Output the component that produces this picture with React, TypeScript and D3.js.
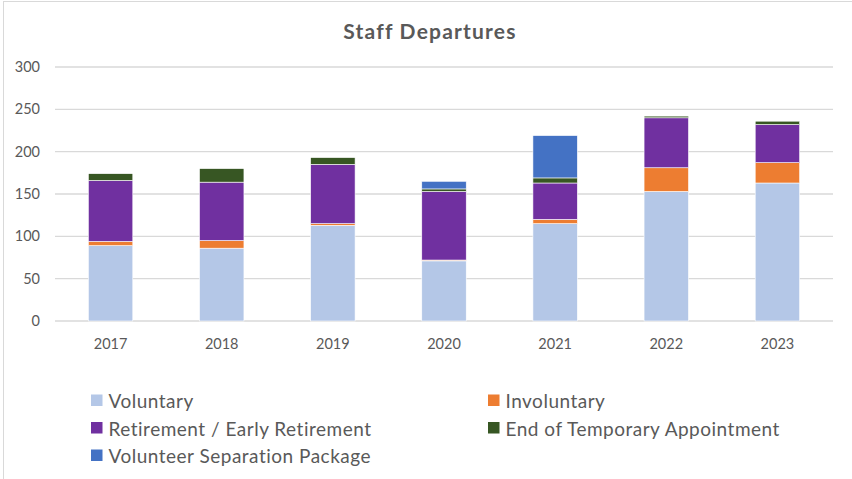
import React from "react";
import * as d3 from "d3";

const years = ["2017", "2018", "2019", "2020", "2021", "2022", "2023"];
const voluntary = [89, 86, 113, 71, 115, 153, 163];
const involuntary = [5, 9, 2, 1, 5, 28, 24];
const retirement = [72, 69, 70, 81, 43, 59, 45];
const endTemporary = [8, 16, 8, 3, 6, 2, 4];
const separationPackage = [0, 0, 0, 9, 50, 0, 0];
const yTicks = [0, 50, 100, 150, 200, 250, 300];

const seriesNames = [
  "Voluntary",
  "Involuntary",
  "Retirement / Early Retirement",
  "End of Temporary Appointment",
  "Volunteer Separation Package",
];
const seriesColors = ["#B4C7E7", "#ED7D31", "#7030A0", "#375623", "#4472C4"];

const width = 852;
const height = 479;
const marginLeft = 55;
const marginRight = 19;
const plotTop = 67;
const plotBottom = 321;
const font = "Lato, 'Liberation Sans', sans-serif";

export default function App() {
  const rows = years.map((year, i) => ({
    year,
    s0: voluntary[i],
    s1: involuntary[i],
    s2: retirement[i],
    s3: endTemporary[i],
    s4: separationPackage[i],
  }));
  const keys = ["s0", "s1", "s2", "s3", "s4"];
  const stacked = d3.stack<any>().keys(keys)(rows);

  const x = d3
    .scaleBand()
    .domain(years)
    .range([marginLeft, width - marginRight])
    .paddingInner(0.6)
    .paddingOuter(0.3);

  const y = d3.scaleLinear().domain([0, 300]).range([plotBottom, plotTop]);

  // legend: two columns, filled row by row
  const legendX = [91, 488];
  const legendY = [408, 435.5, 463];

  return (
    <svg
      width={width}
      height={height}
      style={{ position: "absolute", left: 0, top: 0, background: "#fff" }}
      fontFamily={font}
    >
      <rect x={3.5} y={1.5} width={900} height={520} fill="#fff" stroke="#d9d9d9" />
      <text
        x={430}
        y={38.5}
        textAnchor="middle"
        fontSize={21}
        fontWeight="bold"
        letterSpacing={1.2}
        fill="#595959"
      >
        Staff Departures
      </text>

      {yTicks.map((t) => (
        <g key={t}>
          <line
            x1={marginLeft}
            x2={width - marginRight}
            y1={y(t)}
            y2={y(t)}
            stroke="#d9d9d9"
            strokeWidth={1.3}
          />
          <text
            x={40}
            y={y(t) + 5}
            textAnchor="end"
            fontSize={14.5}
            fill="#595959"
          >
            {t}
          </text>
        </g>
      ))}

      {stacked.map((layer, si) => (
        <g key={layer.key} fill={seriesColors[si]}>
          {layer.map((d, i) =>
            d[1] - d[0] > 0 ? (
              <rect
                key={years[i]}
                x={x(years[i])}
                width={x.bandwidth()}
                y={y(d[1])}
                height={y(d[0]) - y(d[1])}
                stroke="#fff"
                strokeWidth={0.6}
              />
            ) : null
          )}
        </g>
      ))}

      {years.map((yr) => (
        <text
          key={yr}
          x={(x(yr) ?? 0) + x.bandwidth() / 2}
          y={349}
          textAnchor="middle"
          fontSize={14.5}
          fill="#595959"
        >
          {yr}
        </text>
      ))}

      {seriesNames.map((name, i) => {
        const lx = legendX[i % 2];
        const ly = legendY[Math.floor(i / 2)];
        return (
          <g key={name}>
            <rect x={lx} y={ly - 13.5} width={11.5} height={11.5} fill={seriesColors[i]} />
            <text
              x={lx + 17.5}
              y={ly}
              fontSize={19}
              letterSpacing={0.5}
              fill="#595959"
            >
              {name}
            </text>
          </g>
        );
      })}
    </svg>
  );
}
